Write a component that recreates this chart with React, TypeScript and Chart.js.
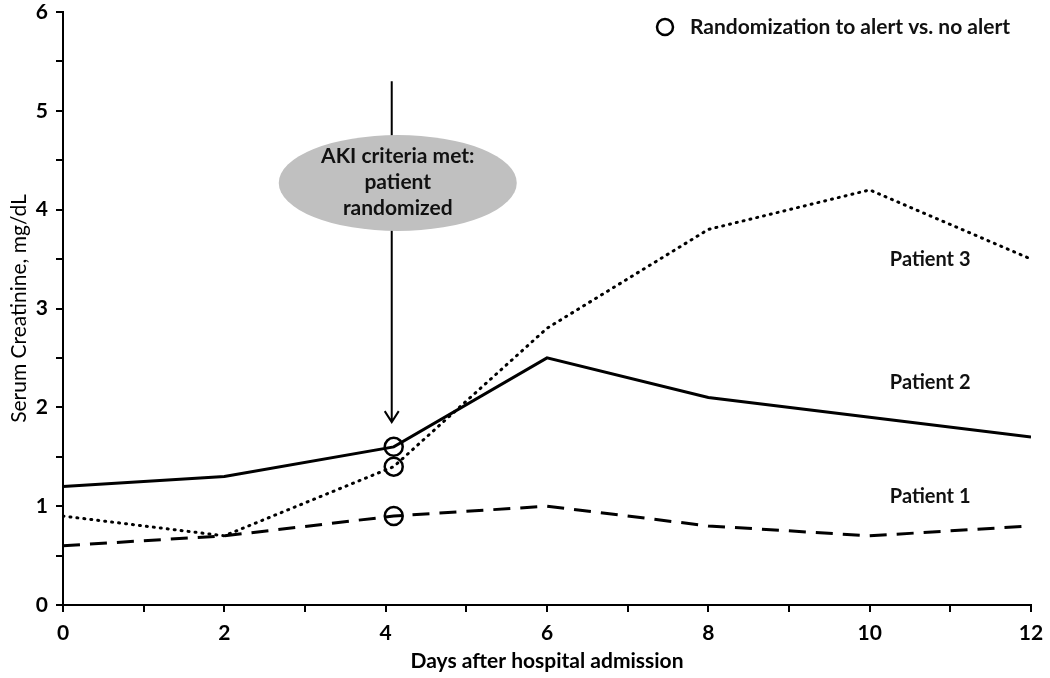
import React, { useEffect, useRef } from 'react';
import { Chart, registerables } from 'chart.js';

Chart.register(...registerables);

const days = [0, 2, 4.1, 6, 8, 10, 12];
const patient1 = [0.6, 0.7, 0.9, 1.0, 0.8, 0.7, 0.8];
const patient2 = [1.2, 1.3, 1.6, 2.5, 2.1, 1.9, 1.7];
const patient3 = [0.9, 0.7, 1.4, 2.8, 3.8, 4.2, 3.5];
const randomizationDay = 4.1;
const randomizationValues = [1.6, 1.4, 0.9];
const patientNames = ['Patient 1', 'Patient 2', 'Patient 3'];
const patientLabelDay = 10.25;
const patientLabelValues = [1.1, 2.25, 3.5];
const legendText = 'Randomization to alert vs. no alert';
const calloutLines = ['AKI criteria met:', 'patient', 'randomized'];
const arrowTop = 5.3;
const arrowBottom = 1.85;
const xTitle = 'Days after hospital admission';
const yTitle = 'Serum Creatinine, mg/dL';

const FONT = 'Lato, "Open Sans", sans-serif';

const toPoints = (vals: number[]) => vals.map((v, i) => ({ x: days[i], y: v }));

const annotations = {
  id: 'annotations',
  afterDatasetsDraw(chart: any) {
    const { ctx, scales } = chart;
    const xs = scales.x;
    const ys = scales.y;
    ctx.save();
    // arrow
    const ax = xs.getPixelForValue(randomizationDay) - 2;
    const aTop = ys.getPixelForValue(arrowTop);
    const aBot = ys.getPixelForValue(arrowBottom);
    ctx.strokeStyle = '#000';
    ctx.lineWidth = 2;
    ctx.beginPath();
    ctx.moveTo(ax, aTop);
    ctx.lineTo(ax, aBot);
    ctx.moveTo(ax - 7, aBot - 11);
    ctx.lineTo(ax, aBot);
    ctx.lineTo(ax + 7, aBot - 11);
    ctx.stroke();

    // ellipse callout
    const ex = xs.getPixelForValue(4.15);
    const ey = ys.getPixelForValue(4.27);
    ctx.fillStyle = '#c0c0c0';
    ctx.beginPath();
    ctx.ellipse(ex, ey, 119, 48, 0, 0, Math.PI * 2);
    ctx.fill();
    ctx.fillStyle = '#111';
    ctx.font = `bold 21px ${FONT}`;
    ctx.textAlign = 'center';
    ctx.textBaseline = 'middle';
    calloutLines.forEach((t, i) => {
      ctx.fillText(t, ex, ey - 27 + i * 26);
    });

    // patient labels
    ctx.font = `bold 20px ${FONT}`;
    ctx.textAlign = 'left';
    patientNames.forEach((t, i) => {
      ctx.fillText(t, xs.getPixelForValue(patientLabelDay), ys.getPixelForValue(patientLabelValues[i]));
    });

    // legend
    ctx.lineWidth = 2.5;
    ctx.beginPath();
    ctx.arc(665, 27, 8, 0, Math.PI * 2);
    ctx.stroke();
    ctx.font = `bold 21px ${FONT}`;
    ctx.fillText(legendText, 690, 27);
    ctx.restore();
  },
};

export default function App() {
  const ref = useRef<HTMLCanvasElement>(null);
  useEffect(() => {
    if (!ref.current) return;
    const axisCommon = {
      border: { display: true, color: '#000', width: 2 },
      grid: { drawOnChartArea: false, drawTicks: true, color: '#000', lineWidth: 2, tickLength: 7 },
    };
    const chart = new Chart(ref.current, {
      type: 'line',
      data: {
        datasets: [
          {
            label: 'Randomization',
            data: randomizationValues.map((v) => ({ x: randomizationDay, y: v })),
            showLine: false,
            pointRadius: 9,
            pointBorderWidth: 2.5,
            pointBorderColor: '#000',
            pointBackgroundColor: 'rgba(0,0,0,0)',
            borderColor: '#000',
            order: 0,
          },
          {
            label: 'Patient 2',
            data: toPoints(patient2),
            borderColor: '#000',
            borderWidth: 3,
            pointRadius: 0,
            tension: 0,
            order: 1,
          },
          {
            label: 'Patient 3',
            data: toPoints(patient3),
            borderColor: '#000',
            borderWidth: 3,
            borderDash: [1, 6],
            borderCapStyle: 'round',
            pointRadius: 0,
            tension: 0,
            order: 1,
          },
          {
            label: 'Patient 1',
            data: toPoints(patient1),
            borderColor: '#000',
            borderWidth: 3,
            borderDash: [17, 10],
            pointRadius: 0,
            tension: 0,
            order: 1,
          },
        ],
      },
      options: {
        animation: false,
        responsive: true,
        maintainAspectRatio: false,
        layout: { padding: { top: 12, right: 19, bottom: 0, left: 0 } },
        plugins: { legend: { display: false }, tooltip: { enabled: false } },
        scales: {
          x: {
            type: 'linear',
            min: 0,
            max: 12,
            ...axisCommon,
            ticks: {
              stepSize: 1,
              color: '#000',
              padding: 9,
              font: { family: FONT, size: 21, weight: 'bold' },
              maxRotation: 0,
              autoSkip: false,
              callback: (v: any) => (Number(v) % 2 === 0 ? String(v) : ''),
            },
            title: {
              display: true,
              text: xTitle,
              color: '#000',
              font: { family: FONT, size: 21, weight: 'bold' },
              padding: { top: 0, bottom: 4 },
            },
            afterFit: (s: any) => {
              s.height = 73;
              s.paddingLeft = 0;
              s.paddingRight = 0;
            },
          },
          y: {
            type: 'linear',
            min: 0,
            max: 6,
            ...axisCommon,
            ticks: {
              stepSize: 0.5,
              color: '#000',
              padding: 8,
              font: { family: FONT, size: 21, weight: 'bold' },
              autoSkip: false,
              callback: (v: any) => (Number.isInteger(Number(v)) ? String(v) : ''),
            },
            title: {
              display: true,
              text: yTitle,
              color: '#000',
              font: { family: FONT, size: 21, weight: 'normal' },
              padding: { top: 7, bottom: 0 },
            },
            afterFit: (s: any) => {
              s.width = 63;
              s.paddingTop = 0;
              s.paddingBottom = 0;
            },
          },
        },
      } as any,
      plugins: [annotations],
    });
    return () => chart.destroy();
  }, []);
  return (
    <div style={{ position: 'absolute', left: 0, top: 0, width: 1050, height: 678, background: '#fff' }}>
      <canvas ref={ref} />
    </div>
  );
}
